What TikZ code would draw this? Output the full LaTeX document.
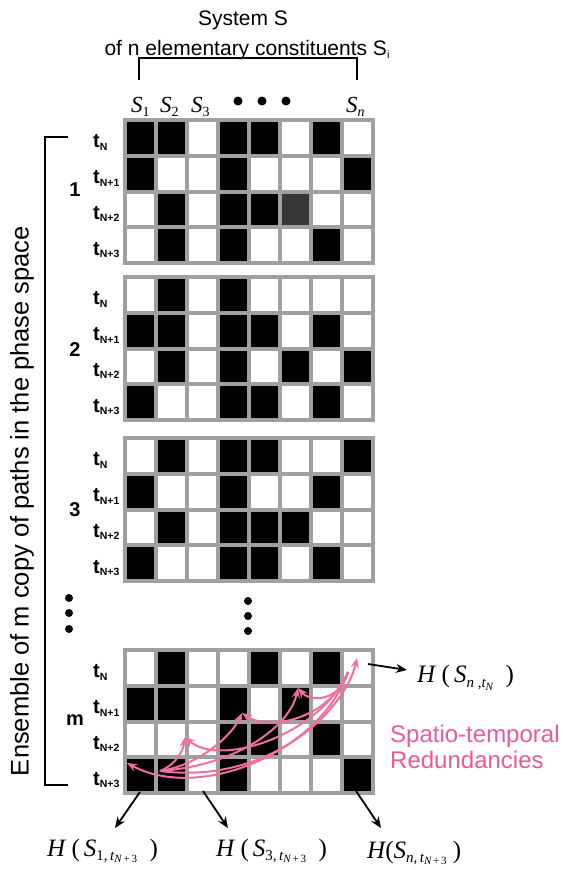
\documentclass[tikz,border=0pt]{standalone}
\usepackage{fontspec}
\setmainfont{Liberation Sans}
\newfontfamily\tms{Liberation Serif}
\usetikzlibrary{arrows.meta}
\definecolor{gridgray}{RGB}{160,160,160}
\definecolor{c0}{RGB}{255,255,255}
\definecolor{c1}{RGB}{0,0,0}
\definecolor{c2}{RGB}{55,55,55}
\definecolor{pinkline}{RGB}{240,110,160}
\definecolor{pinktext}{RGB}{232,90,152}
\newcommand{\fs}[1]{\fontsize{#1}{#1}\selectfont}
\newcommand{\ti}[1]{{\tms\itshape #1}}
\newcommand{\lo}[2]{\raisebox{#1}{#2}}
\newcommand{\drawgrid}[2]{%
  \foreach \rowlist [count=\j] in {#2} {%
    \foreach \v [count=\i] in \rowlist {%
      \draw[cell, fill=c\v] ({125+31*(\i-1)},{#1+35.75*(\j-1)}) rectangle ++(31,35.75);
    }%
  }%
  \foreach \lab [count=\j] in {N,N+1,N+2,N+3} {%
    \node[rowlab] (tl#1n\j) at (93,{#1+35.75*(\j-0.5)+10}) {t\lo{-2.5pt}{\fs{10.5}\lab}};
  }%
}
\tikzset{
  cell/.style={draw=gridgray, line width=4pt},
  rowlab/.style={anchor=base west, inner sep=0pt, font=\bfseries\fs{20}},
  grp/.style={inner sep=0pt, font=\bfseries\fs{20}},
  toptext/.style={anchor=base, inner sep=0pt, font=\fs{21}},
  slab/.style={anchor=base west, inner sep=0pt, font=\tms},
  hlab/.style={anchor=base west, inner sep=0pt, font=\tms},
  pinklab/.style={anchor=base west, inner sep=0pt, font=\fs{24}, text=pinktext},
  bracket/.style={draw=black, line width=1.6pt},
  blackarrow/.style={draw=black, line width=1.8pt, -{Stealth[length=11pt,width=9pt]}},
  pinkarrow/.style={draw=pinkline, line width=2pt, -{Stealth[length=10pt,width=8pt]}},
}
\begin{document}
\begin{tikzpicture}[x=1pt,y=-1pt]
\useasboundingbox (0,0) rectangle (564,870);
\fill[white] (0,0) rectangle (564,870);

% top texts
\node[toptext] (sys) at (243,25) {System S};
\node[toptext] (sys2) at (247,55) {of n elementary constituents S\lo{-3pt}{\fs{11}i}};
\coordinate (brL) at (139,80);
\coordinate (brLt) at (139,58);
\coordinate (brRt) at (357,58);
\coordinate (brR) at (357,80);
\draw[bracket] (brL) -- (brLt) -- (brRt) -- (brR);

% S labels
\node[slab] (s1) at (131,112) {\fs{23}\ti{S}{\fs{14}\lo{-4pt}{1}}};
\node[slab] (s2) at (160,112) {\fs{23}\ti{S}{\fs{14}\lo{-4pt}{2}}};
\node[slab] (s3) at (191,112) {\fs{23}\ti{S}{\fs{14}\lo{-4pt}{3}}};
\node[slab] (sn) at (346,112) {\fs{23}\ti{S}{\fs{14}\lo{-4pt}{\ti{n}}}};
\fill (238,101) circle (4.5);
\fill (262,101) circle (4.5);
\fill (286,101) circle (4.5);

% left bracket and vertical text
\coordinate (lbt) at (68,137);
\coordinate (lbtc) at (45,137);
\coordinate (lbbc) at (45,785);
\coordinate (lbb) at (68,785);
\draw[bracket] (lbt) -- (lbtc) -- (lbbc) -- (lbb);
\node[rotate=90, inner sep=0pt, font=\fs{25.5}] (ens) at (22,501) {Ensemble of m copy of paths in the phase space};

% grids
\drawgrid{120}{{1,1,0,1,1,0,1,0},{1,0,0,1,0,0,0,1},{0,1,0,1,1,2,0,0},{0,1,0,1,0,0,1,0}}
\drawgrid{277}{{0,1,0,1,0,0,0,0},{1,1,0,1,1,0,1,0},{0,1,0,1,0,1,0,1},{1,0,0,1,1,0,1,0}}
\drawgrid{438}{{0,1,0,1,1,0,0,1},{1,0,0,1,0,0,1,0},{0,1,0,1,1,1,0,0},{1,0,0,1,1,0,1,0}}
\drawgrid{650}{{0,1,0,0,1,0,1,0},{1,1,0,1,0,1,0,0},{0,0,0,1,1,0,1,0},{1,1,0,1,0,0,0,1}}

\node[grp] (g1) at (75,190) {1};
\node[grp] (g2) at (75,350) {2};
\node[grp] (g3) at (75,510) {3};
\node[grp] (gm) at (75,720) {m};

% vertical dots
\fill (69,598) circle (4);
\fill (69,613) circle (4);
\fill (69,629) circle (4);
\fill (248,601) circle (4);
\fill (248,616) circle (4);
\fill (248,631) circle (4);

% pink arrows
\coordinate (Q) at (160,771);
\coordinate (P) at (348,672);
\coordinate (T1) at (127,763);
\coordinate (T2) at (185,737);
\coordinate (T3) at (242,713);
\coordinate (T4) at (298,688);
\coordinate (T5) at (357,658);
\draw[pinkarrow] (Q) .. controls (175,765) and (183,752) .. (T2);
\draw[pinkarrow] (Q) .. controls (200,765) and (232,735) .. (T3);
\draw[pinkarrow] (Q) .. controls (240,765) and (290,725) .. (T4);
\draw[pinkarrow] (Q) .. controls (270,785) and (345,710) .. (T5);
\draw[pinkarrow] (P) .. controls (340,702) and (310,702) .. (T4);
\draw[pinkarrow] (P) .. controls (330,718) and (270,732) .. (T3);
\draw[pinkarrow] (P) .. controls (320,735) and (220,768) .. (T2);
\draw[pinkarrow] (P) .. controls (320,752) and (200,802) .. (T1);

\node[pinklab] (red1) at (390,742) {Spatio-temporal};
\node[pinklab] (red2) at (390,768) {Redundancies};

% entropy labels and black arrows
\node[hlab] (hn) at (417,682) {{\fs{25}\ti{H}\ (\,\ti{S}}{\fs{15}\lo{-5pt}{\ti{n}\ ,\ti{t}{\fs{11}\lo{-3pt}{\ti{N}}}}}{\fs{25}\ \ )}};
\node[hlab] (h1) at (47,856) {{\fs{25}\ti{H}\ (\,\ti{S}}{\fs{15}\lo{-4pt}{1,\,\ti{t}{\fs{11}\lo{-2.5pt}{\ti{N}\,+\,3}}}}{\fs{25}\ \ )}};
\node[hlab] (h3) at (216,856) {{\fs{25}\ti{H}\ (\,\ti{S}}{\fs{15}\lo{-4pt}{3,\,\ti{t}{\fs{11}\lo{-2.5pt}{\ti{N}\,+\,3}}}}{\fs{25}\ \ )}};
\node[hlab] (hnn) at (367,858) {{\fs{25}\ti{H}(\ti{S}}{\fs{15}\lo{-4pt}{\ti{n},\,\ti{t}{\fs{11}\lo{-2.5pt}{\ti{N}\,+\,3}}}}{\fs{25}\ )}};

\coordinate (a0s) at (368,664);
\coordinate (a0e) at (407,670);
\coordinate (a1s) at (140,792);
\coordinate (a1e) at (115,828);
\coordinate (a2s) at (203,791);
\coordinate (a2e) at (228,828);
\coordinate (a3s) at (356,791);
\coordinate (a3e) at (381,828);
\draw[blackarrow] (a0s) -- (a0e);
\draw[blackarrow] (a1s) -- (a1e);
\draw[blackarrow] (a2s) -- (a2e);
\draw[blackarrow] (a3s) -- (a3e);
\end{tikzpicture}
\end{document}
